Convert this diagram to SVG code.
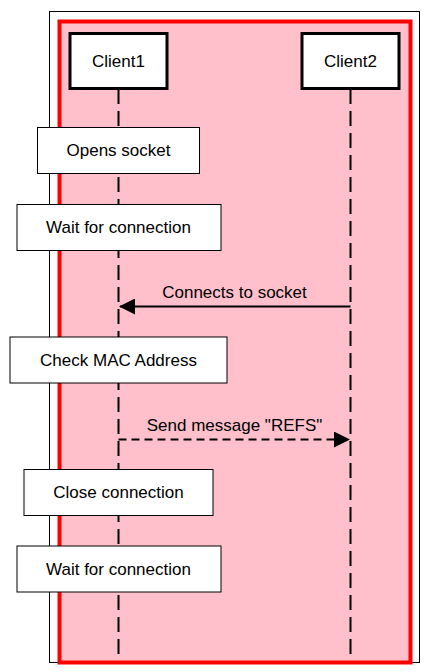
<svg xmlns="http://www.w3.org/2000/svg" width="430" height="672" viewBox="0 0 430 672">
<defs>
<style>
text{font-family:"Liberation Sans",Arial,Helvetica,sans-serif;font-size:17px;fill:#000;text-anchor:middle;dominant-baseline:central}
.actor{fill:#fff;stroke:#000;stroke-width:3}
.note{fill:#fff;stroke:#000;stroke-width:1}
.life{stroke:#000;stroke-width:2;stroke-dasharray:15,7;fill:none}
.msg{stroke:#000;stroke-width:2;fill:none}
.dash{stroke-dasharray:8,5}
</style>
<marker id="arr" viewBox="0 0 16 16" refX="15" refY="8" markerWidth="16" markerHeight="16" markerUnits="userSpaceOnUse" orient="auto">
<path d="M0,0 L16,8 L0,16 Z" fill="#000"/>
</marker>
</defs>
<rect x="49.5" y="11.5" width="370" height="651" fill="#fff" stroke="#000" stroke-width="1"/>
<rect x="59.5" y="21.5" width="351" height="641" fill="#FFC0CB" stroke="#FF0000" stroke-width="4"/>
<g id="connectors">
<line class="life" x1="118.5" y1="89" x2="118.5" y2="658"/>
<line class="life" x1="350.5" y1="89" x2="350.5" y2="658"/>
<line class="msg" x1="350.5" y1="306.5" x2="120" y2="306.5" marker-end="url(#arr)"/>
<text x="234.5" y="292.5">Connects to socket</text>
<line class="msg dash" x1="118.5" y1="439.5" x2="349" y2="439.5" marker-end="url(#arr)"/>
<text x="234.5" y="425.5">Send message "REFS"</text>
</g>
<g id="client1"><rect class="actor" x="70" y="33.5" width="97" height="55"/><text x="118.5" y="61">Client1</text></g>
<g id="client2"><rect class="actor" x="302" y="33.5" width="97" height="55"/><text x="350.5" y="61">Client2</text></g>
<g id="opens-socket"><rect class="note" x="37.5" y="127.5" width="162" height="46"/><text x="118.5" y="150.5">Opens socket</text></g>
<g id="wait1"><rect class="note" x="17" y="204.5" width="204" height="46"/><text x="118.5" y="227.5">Wait for connection</text></g>
<g id="check-mac"><rect class="note" x="10" y="337" width="217" height="46"/><text x="118.5" y="360">Check MAC Address</text></g>
<g id="close-conn"><rect class="note" x="24" y="469.5" width="189" height="46"/><text x="118.5" y="492.5">Close connection</text></g>
<g id="wait2"><rect class="note" x="17" y="546" width="204" height="46"/><text x="118.5" y="569">Wait for connection</text></g>
</svg>
